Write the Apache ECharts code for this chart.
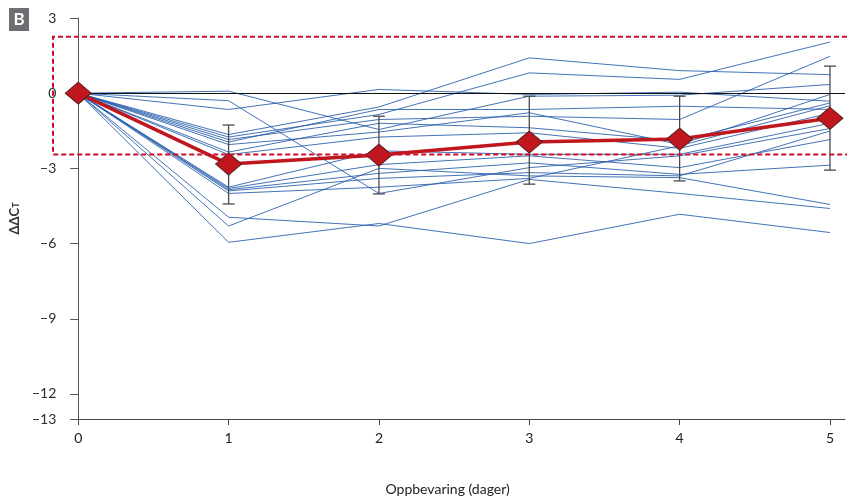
<!DOCTYPE html>
<html><head><meta charset="utf-8">
<script src="https://cdn.jsdelivr.net/npm/echarts@6/dist/echarts.min.js"></script>
<style>html,body{margin:0;padding:0;background:#fff}#c{width:847px;height:502px}</style>
</head><body><div id="c"></div>
<script>
// ---- data ----
const days = [0, 1, 2, 3, 4, 5];
const xTicks = [0, 1, 2, 3, 4, 5];
const yTicks = [3, 0, -3, -6, -9, -12, -13];

// individual samples (ΔΔCT per day)
const s01 = [0, -5.95, -5.2, -6.0, -4.83, -5.56];
const s02 = [0, -4.95, -5.3, -3.44, -4.0, -4.6];
const s03 = [0, -5.3, -3.0, -3.3, -3.37, -4.44];
const s04 = [0, 0.08, -1.45, -0.12, -0.08, 0.35];
const s05 = [0, -0.3, -4.0, -2.97, -2.5, -1.41];
const s06 = [0, -0.65, 0.15, -0.05, 0.04, -0.32];
const s07 = [0, -1.65, -0.55, 1.41, 0.9, 0.74];
const s08 = [0, -1.75, -0.85, 0.81, 0.55, 2.04];
const s09 = [0, -1.85, -1.05, -0.92, -1.05, 1.47];
const s10 = [0, -1.95, -0.65, -0.65, -0.52, -0.65];
const s11 = [0, -2.05, -1.55, -0.78, -2.05, -0.05];
const s12 = [0, -2.35, -1.2, -1.38, -1.9, -0.39];
const s13 = [0, -2.45, -1.75, -1.58, -2.2, -0.8];
const s14 = [0, -3.75, -2.3, -2.44, -2.44, -1.2];
const s15 = [0, -3.8, -2.85, -2.5, -2.97, -1.85];
const s16 = [0, -3.85, -3.2, -2.78, -3.24, -2.87];
const s17 = [0, -3.9, -3.4, -3.17, -3.3, -1.51];
const s18 = [0, -4.0, -3.75, -3.4, -2.1, -0.5];
const samples = [s01, s02, s03, s04, s05, s06, s07, s08, s09, s10, s11, s12, s13, s14, s15, s16, s17, s18];

// mean with error bars
const meanValues = [0, -2.83, -2.47, -1.95, -1.83, -1.0];
const errLow  = [null, -4.42, -4.02, -3.63, -3.5, -3.07];
const errHigh = [null, -1.27, -0.92, -0.12, -0.12, 1.08];

// acceptance limits (dashed red box)
const limits = [2.25, -2.45];

// ---- chart ----
const chart = echarts.init(document.getElementById('c'), null, {renderer: 'canvas'});
const FONT = 'Lato';

const series = samples.map((s, k) => ({
  type: 'line',
  data: days.map((d, i) => [d, s[i]]),
  symbol: 'none',
  silent: true,
  z: 2,
  lineStyle: {color: 'rgba(35,90,170,0.85)', width: 1},
  markLine: k === 0 ? {
    silent: true, symbol: 'none', label: {show: false},
    lineStyle: {color: '#111', width: 1, type: 'solid'},
    data: [{yAxis: 0}]
  } : undefined
}));

series.push({
  type: 'custom',
  z: 4,
  silent: true,
  data: days.map((d, i) => [d, errLow[i], errHigh[i]]).filter(r => r[1] !== null),
  renderItem(params, api) {
    const x = api.value(0);
    const lo = api.coord([x, api.value(1)]);
    const hi = api.coord([x, api.value(2)]);
    const w = 6;
    const st = {stroke: '#4a4a4a', lineWidth: 1.3};
    return {type: 'group', children: [
      {type: 'line', shape: {x1: lo[0], y1: lo[1], x2: hi[0], y2: hi[1]}, style: st},
      {type: 'line', shape: {x1: lo[0] - w, y1: lo[1], x2: lo[0] + w, y2: lo[1]}, style: st},
      {type: 'line', shape: {x1: hi[0] - w, y1: hi[1], x2: hi[0] + w, y2: hi[1]}, style: st}
    ]};
  }
});

series.push({
  type: 'line',
  z: 6,
  silent: true,
  data: days.map((d, i) => [d, meanValues[i]]),
  symbol: 'diamond',
  symbolSize: [26, 22],
  itemStyle: {color: '#c0161e', borderColor: '#5a2020', borderWidth: 1},
  lineStyle: {color: '#c0161e', width: 3.5}
});

chart.setOption({
  animation: false,
  backgroundColor: '#fff',
  grid: {left: 75, right: 2, top: 18, bottom: 83, containLabel: false},
  xAxis: {
    type: 'value', min: 0, max: 5.1,
    axisLine: {show: true, onZero: false, lineStyle: {color: '#444', width: 1}},
    axisTick: {show: true, customValues: xTicks, length: 6, lineStyle: {color: '#444'}},
    axisLabel: {customValues: xTicks, color: '#222', fontSize: 14, fontFamily: FONT, margin: 12},
    splitLine: {show: false},
    name: 'Oppbevaring (dager)',
    nameLocation: 'middle',
    nameGap: 63,
    nameTextStyle: {color: '#222', fontSize: 14, fontFamily: FONT, padding: [0, 28, 0, 0]}
  },
  yAxis: {
    type: 'value', min: -13, max: 3,
    axisLine: {show: true, onZero: false, lineStyle: {color: '#555', width: 1}},
    axisTick: {show: true, customValues: yTicks, length: 8, lineStyle: {color: '#555'}},
    axisLabel: {customValues: yTicks, color: '#2b2b2b', fontSize: 14, fontFamily: FONT, margin: 22,
      formatter: v => (v < 0 ? '\u2212' + Math.abs(v) : String(v))},
    splitLine: {show: false},
    name: '{a|ΔΔC}{b|T}',
    nameLocation: 'middle',
    nameGap: 52,
    nameTextStyle: {
      rich: {
        a: {fontSize: 13, fontWeight: 'bold', color: '#333', fontFamily: FONT},
        b: {fontSize: 9, fontWeight: 'bold', color: '#333', fontFamily: FONT, verticalAlign: 'bottom', padding: [4, 0, 0, 0]}
      }
    }
  },
  series: series
});

const yTop = chart.convertToPixel({gridIndex: 0}, [0, limits[0]])[1];
const yBot = chart.convertToPixel({gridIndex: 0}, [0, limits[1]])[1];
chart.setOption({
  graphic: [
    {type: 'rect', left: 9, top: 8, shape: {width: 20, height: 23}, style: {fill: '#6d6e71'}, z: 10},
    {type: 'text', x: 19, y: 20, style: {text: 'B', fill: '#fff', font: 'bold 17px ' + FONT, align: 'center', verticalAlign: 'middle'}, z: 11},
    {type: 'polyline', z: 8, silent: true,
      shape: {points: [[847, yTop], [53, yTop], [53, yBot], [847, yBot]]},
      style: {stroke: '#c8102e', lineWidth: 2, lineDash: [5, 3], fill: null}}
  ]
});
</script>
</body></html>
